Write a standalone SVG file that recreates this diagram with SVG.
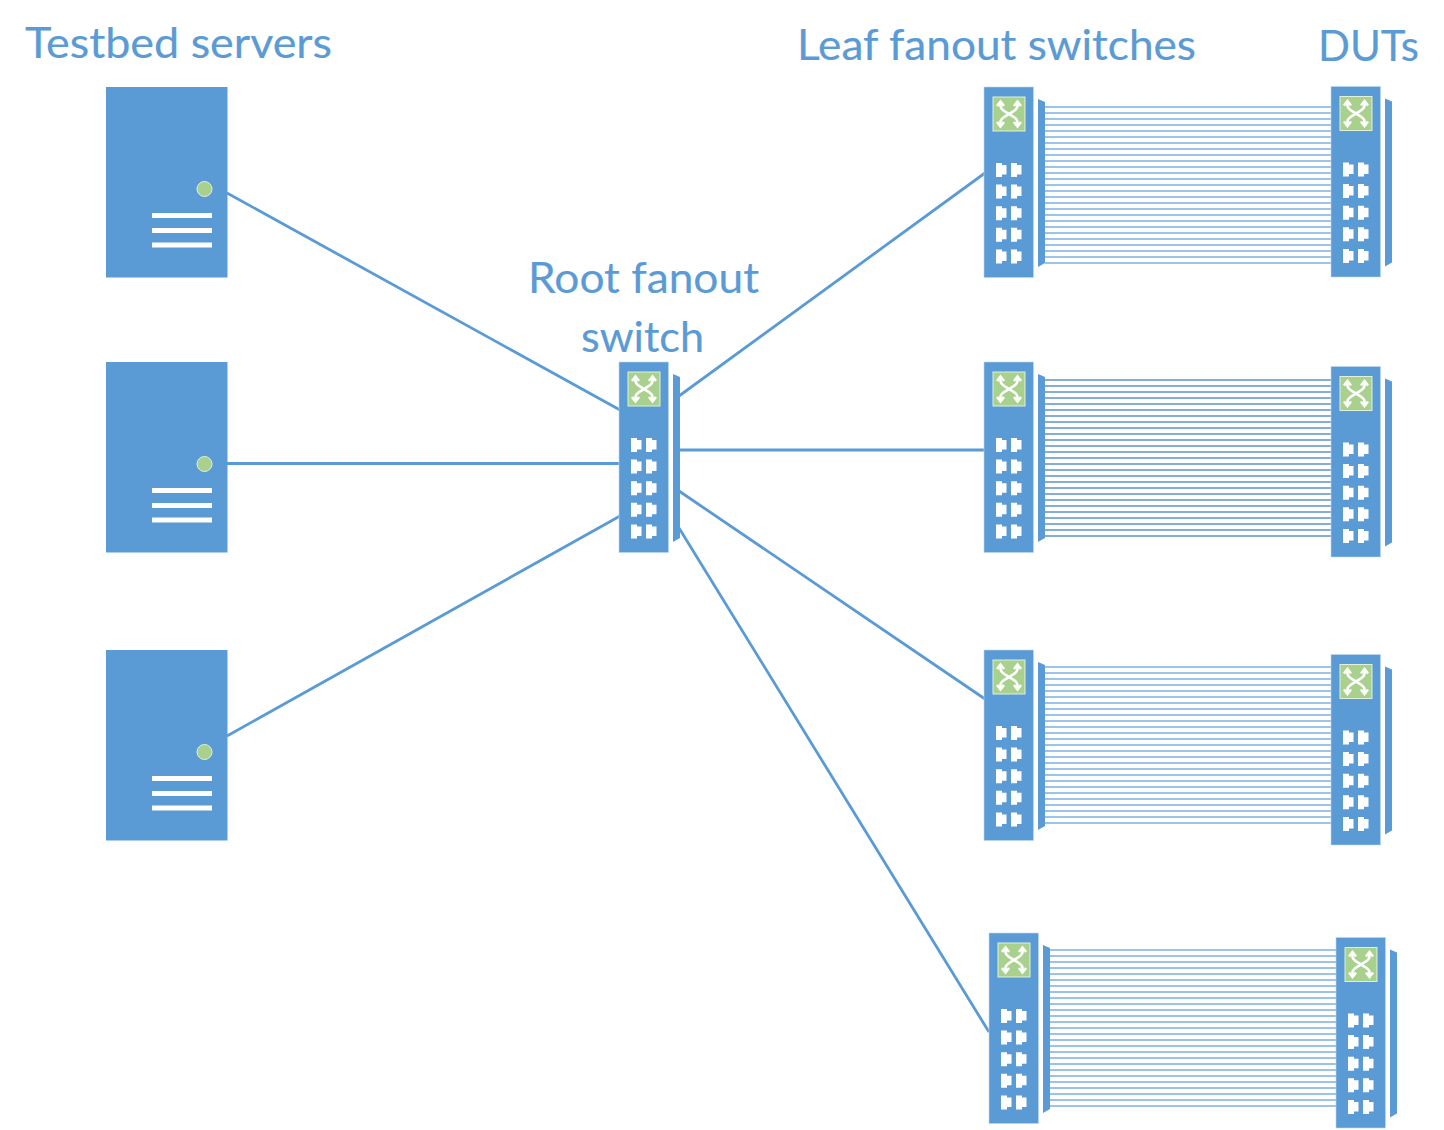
<svg xmlns="http://www.w3.org/2000/svg" xmlns:xlink="http://www.w3.org/1999/xlink" width="1444" height="1130" viewBox="0 0 1444 1130">
<style>
.label{font-family:"Lato","Liberation Sans",sans-serif;font-size:43px;fill:#5B9BD5;stroke:#5B9BD5;stroke-width:.2}
.link{stroke:#5B9BD5;stroke-width:2.8;fill:none}
.cable{stroke:#9DC3E6;stroke-width:2;fill:none}
.cable.dark{stroke:#5F93C4;stroke-width:1.7}
.body{fill:#5B9BD5;stroke:#BDD7EE;stroke-width:.6}
.port{fill:#fff}
.arrow{stroke:#fff;stroke-width:2.6;fill:none}
</style>
<defs>
<g id="port"><path class="port" d="M0 0H6V2H10.500V11.500H6V14H0Z"/></g>
<g id="sw">
<rect class="body" x="0" y="0" width="49.500" height="190.500"/>
<path fill="#5B9BD5" d="M54 12L61 15V176L54 180Z"/>
<rect x="9" y="10" width="32" height="34" fill="#A9D18E" stroke="#E2F0D9" stroke-width="1"/>
<path class="arrow" d="M16.500 15V19C16.500 23 21 24 25 27C29 30 33.500 31 33.500 35V39M33.500 15V19C33.500 23 29 24 25 27C21 30 16.500 31 16.500 35V39"/>
<path class="arrow" d="M13 19L16.500 14.500L20 19M30 19L33.500 14.500L37 19M13 35L16.500 39.500L20 35M30 35L33.500 39.500L37 35"/>
<use href="#port" x="12" y="76"/><use href="#port" x="27" y="76"/>
<use href="#port" x="12" y="97.600"/><use href="#port" x="27" y="97.600"/>
<use href="#port" x="12" y="119.200"/><use href="#port" x="27" y="119.200"/>
<use href="#port" x="12" y="140.800"/><use href="#port" x="27" y="140.800"/>
<use href="#port" x="12" y="162.400"/><use href="#port" x="27" y="162.400"/>
</g>
<g id="srv">
<rect x="0" y="0" width="121.500" height="190.500" fill="#5B9BD5"/>
<circle cx="98.500" cy="102" r="7.500" fill="#A9D18E" stroke="#E2F0D9" stroke-width="1"/>
<path fill="#fff" d="M46 126H106V131H46ZM46 141H106V146H46ZM46 155.500H106V160.500H46Z"/>
</g>
<path id="bundle" d="M0 0H286M0 6H286M0 12H286M0 18H286M0 24H286M0 30H286M0 36H286M0 42H286M0 48H286M0 54H286M0 60H286M0 66H286M0 72H286M0 78H286M0 84H286M0 90H286M0 96H286M0 102H286M0 108H286M0 114H286M0 120H286M0 126H286M0 132H286M0 138H286M0 144H286M0 150H286M0 156H286"/>
</defs>
<g id="connectors">
<path class="link" d="M227 193L620 410M227 463.500H620M227 736L620 516M679 396L985 173M679 450H985M679 491L985 699M679 528L989 1032"/>
<use href="#bundle" class="cable" x="1045" y="107"/>
<use href="#bundle" class="cable dark" x="1045" y="380"/>
<use href="#bundle" class="cable" x="1045" y="667"/>
<use href="#bundle" class="cable" x="1050" y="950"/>
</g>
<g id="server1"><use href="#srv" x="106" y="87"/></g>
<g id="server2"><use href="#srv" x="106" y="362"/></g>
<g id="server3"><use href="#srv" x="106" y="650"/></g>
<g id="root"><use href="#sw" x="619" y="362"/></g>
<g id="leaf1"><use href="#sw" x="984" y="87"/></g>
<g id="leaf2"><use href="#sw" x="984" y="362"/></g>
<g id="leaf3"><use href="#sw" x="984" y="650"/></g>
<g id="leaf4"><use href="#sw" x="989" y="933"/></g>
<g id="dut1"><use href="#sw" x="1331" y="86.500"/></g>
<g id="dut2"><use href="#sw" x="1331" y="366.500"/></g>
<g id="dut3"><use href="#sw" x="1331" y="654.500"/></g>
<g id="dut4"><use href="#sw" x="1336" y="937.500"/></g>
<g id="labels">
<text class="label" x="25" y="58" textLength="307" lengthAdjust="spacingAndGlyphs">Testbed servers</text>
<text class="label" x="797" y="60" textLength="399" lengthAdjust="spacingAndGlyphs">Leaf fanout switches</text>
<text class="label" x="1318" y="61" textLength="101" lengthAdjust="spacingAndGlyphs">DUTs</text>
<text class="label" x="528" y="293" textLength="231" lengthAdjust="spacingAndGlyphs">Root fanout</text>
<text class="label" x="581" y="352" textLength="123" lengthAdjust="spacingAndGlyphs">switch</text>
</g>
</svg>
